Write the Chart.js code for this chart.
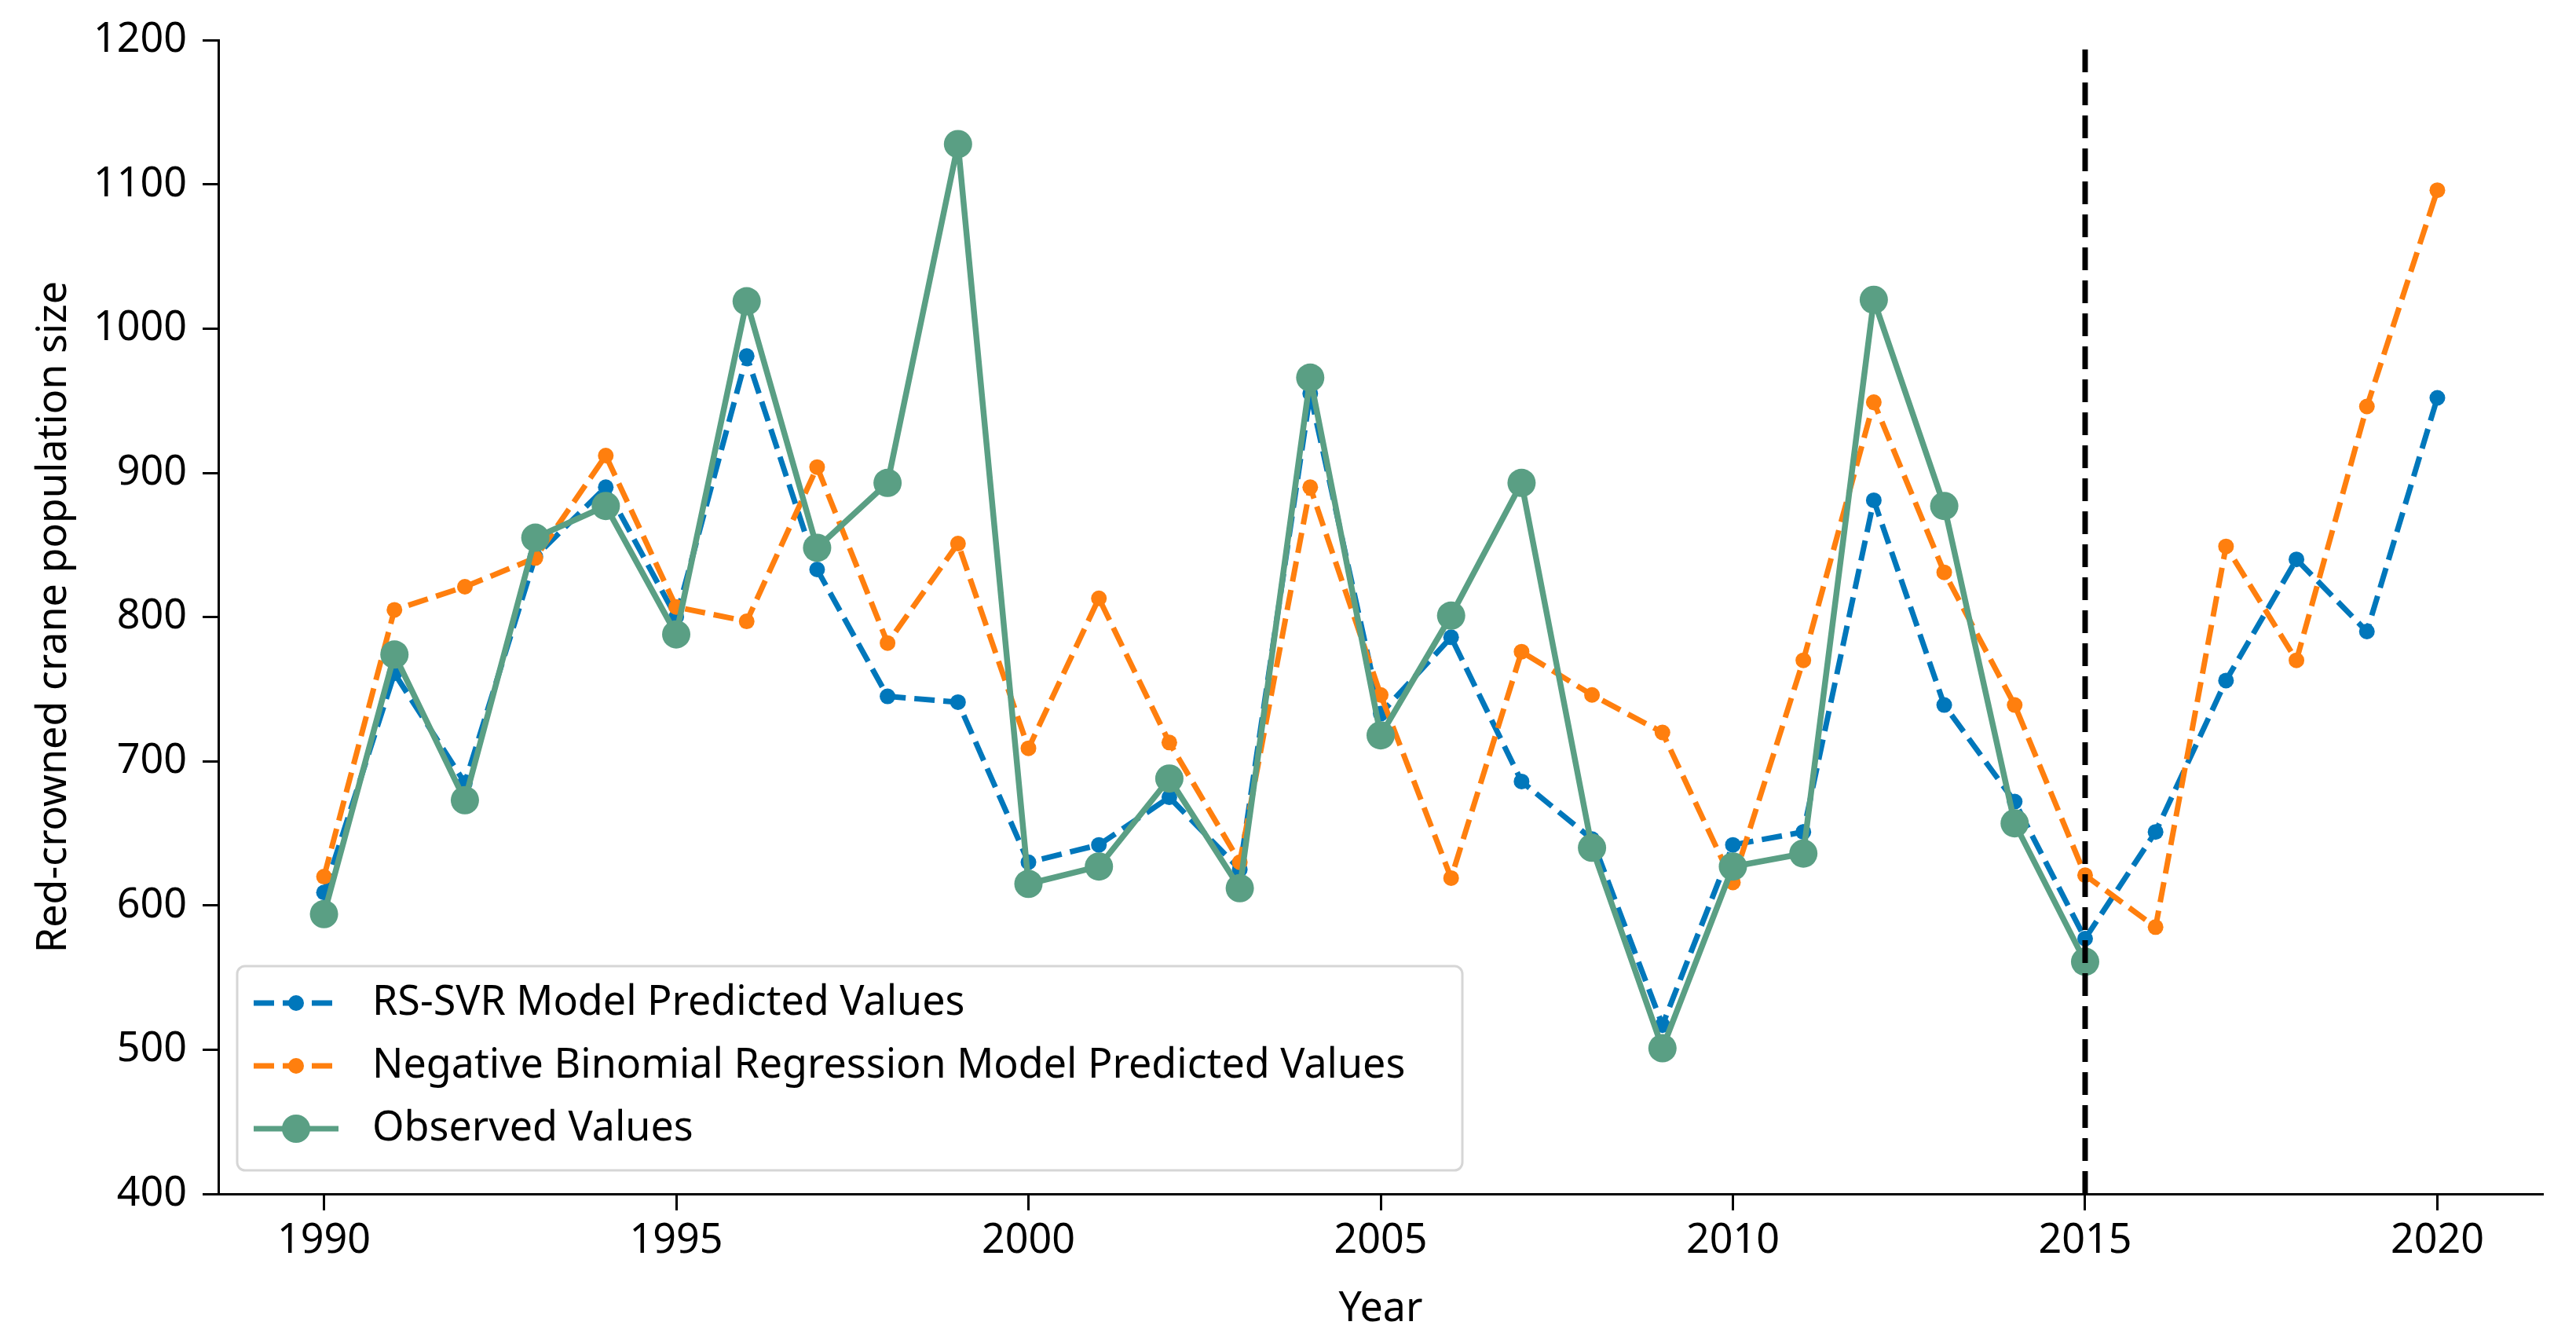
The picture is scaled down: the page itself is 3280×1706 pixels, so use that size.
<!DOCTYPE html>
<html>
<head>
<meta charset="utf-8">
<script src="https://cdn.jsdelivr.net/npm/chart.js@4.4.1/dist/chart.umd.min.js"></script>
<style>
  body { margin: 0; background: #fff; }
  #wrap { width: 3280px; height: 1706px; }
</style>
</head>
<body>
<div id="wrap"><canvas id="chart" width="3280" height="1706"></canvas></div>
<script>
// years on the x axis
const years = [1990, 1991, 1992, 1993, 1994, 1995, 1996, 1997, 1998, 1999,
  2000, 2001, 2002, 2003, 2004, 2005, 2006, 2007, 2008, 2009,
  2010, 2011, 2012, 2013, 2014, 2015, 2016, 2017, 2018, 2019, 2020];

// RS-SVR predictions (1990-2020)
const rsSvr = [609, 761, 685, 842, 890, 800, 981, 833, 745, 741,
  630, 642, 675, 625, 955, 733, 786, 686, 646, 517,
  642, 651, 881, 739, 672, 577, 651, 756, 840, 790, 952];

// negative binomial regression predictions (1990-2020)
const negBin = [620, 805, 821, 841, 912, 807, 797, 904, 782, 851,
  709, 813, 713, 630, 890, 746, 619, 776, 746, 720,
  616, 770, 949, 831, 739, 621, 585, 849, 770, 946, 1096];

// observed counts (1990-2015)
const observed = [594, 774, 673, 855, 877, 788, 1019, 848, 893, 1128,
  615, 627, 688, 612, 966, 718, 801, 893, 640, 501,
  627, 636, 1020, 877, 657, 561];

const splitYear = 2015;
const xTicks = [1990, 1995, 2000, 2005, 2010, 2015, 2020];
const yTicks = [400, 500, 600, 700, 800, 900, 1000, 1100, 1200];

const BLUE = '#0077bb';
const ORANGE = '#ff7f0e';
const GREEN = '#5a9f84';
const FONT = '"Noto Sans", "Open Sans", sans-serif';
const DASH = [26, 11];

const pts = (vals) => vals.map((v, i) => ({ x: years[i], y: v }));

const legendItems = [
  { label: 'RS-SVR Model Predicted Values', color: BLUE, dash: DASH, r: 10 },
  { label: 'Negative Binomial Regression Model Predicted Values', color: ORANGE, dash: DASH, r: 10 },
  { label: 'Observed Values', color: GREEN, dash: [], r: 18 },
];

// matplotlib-style legend box inside the plot (lower left)
const boxLegend = {
  id: 'boxLegend',
  afterDraw(chart) {
    const ctx = chart.ctx;
    const x0 = 302, y0 = 1230, w = 1560, h = 260;
    ctx.save();
    ctx.beginPath();
    ctx.roundRect(x0, y0, w, h, 10);
    ctx.fillStyle = 'rgba(255,255,255,0.8)';
    ctx.fill();
    ctx.lineWidth = 3;
    ctx.strokeStyle = '#d6d6d6';
    ctx.stroke();

    legendItems.forEach((it, i) => {
      const cy = 1277 + i * 80;
      ctx.beginPath();
      ctx.setLineDash(it.dash);
      ctx.lineWidth = 7;
      ctx.strokeStyle = it.color;
      ctx.moveTo(323, cy);
      ctx.lineTo(431, cy);
      ctx.stroke();
      ctx.setLineDash([]);
      ctx.beginPath();
      ctx.arc(377, cy, it.r, 0, Math.PI * 2);
      ctx.fillStyle = it.color;
      ctx.fill();

      ctx.fillStyle = '#000';
      ctx.font = '52px ' + FONT;
      ctx.textBaseline = 'middle';
      ctx.textAlign = 'left';
      ctx.fillText(it.label, 474, cy);
    });
    ctx.restore();
  }
};

new Chart(document.getElementById('chart'), {
  type: 'line',
  data: {
    datasets: [
      {
        label: 'split',
        data: [{ x: splitYear, y: 400 }, { x: splitYear, y: 1200 }],
        borderColor: '#000',
        borderWidth: 7,
        borderDash: [29, 13],
        pointRadius: 0,
        order: 0,
      },
      {
        label: 'Observed Values',
        data: pts(observed),
        borderColor: GREEN,
        backgroundColor: GREEN,
        borderWidth: 7.5,
        borderJoinStyle: 'round',
        pointRadius: 18,
        pointBorderWidth: 0,
        pointBackgroundColor: GREEN,
        order: 1,
      },
      {
        label: 'Negative Binomial Regression Model Predicted Values',
        data: pts(negBin),
        borderColor: ORANGE,
        backgroundColor: ORANGE,
        borderWidth: 7,
        borderDash: DASH,
        borderJoinStyle: 'round',
        pointRadius: 10,
        pointBorderWidth: 0,
        pointBackgroundColor: ORANGE,
        order: 2,
      },
      {
        label: 'RS-SVR Model Predicted Values',
        data: pts(rsSvr),
        borderColor: BLUE,
        backgroundColor: BLUE,
        borderWidth: 7,
        borderDash: DASH,
        borderJoinStyle: 'round',
        pointRadius: 10,
        pointBorderWidth: 0,
        pointBackgroundColor: BLUE,
        order: 3,
      },
    ],
  },
  options: {
    responsive: false,
    animation: false,
    devicePixelRatio: 1,
    layout: { padding: { top: 46, right: 42, left: 0, bottom: 0 } },
    plugins: {
      legend: { display: false },
      tooltip: { enabled: false },
    },
    scales: {
      x: {
        type: 'linear',
        min: 1988.5,
        max: 2021.5,
        afterBuildTicks: (scale) => { scale.ticks = xTicks.map(v => ({ value: v })); },
        afterFit: (scale) => { scale.height = 186; },
        grid: { drawOnChartArea: false, drawTicks: true, tickLength: 21, tickWidth: 3, color: '#000' },
        border: { display: true, color: '#000', width: 3 },
        ticks: { color: '#000', font: { family: FONT, size: 52 }, padding: 8, maxRotation: 0,
          callback: (v) => String(v) },
        title: { display: true, text: 'Year', color: '#000', font: { family: FONT, size: 52 }, padding: { top: 0, bottom: 8 } },
      },
      y: {
        min: 400,
        max: 1200,
        afterBuildTicks: (scale) => { scale.ticks = yTicks.map(v => ({ value: v })); },
        afterFit: (scale) => { scale.width = 278; },
        grid: { drawOnChartArea: false, drawTicks: true, tickLength: 20, tickWidth: 3, color: '#000' },
        border: { display: true, color: '#000', width: 3 },
        ticks: { color: '#000', font: { family: FONT, size: 52 }, padding: 20,
          callback: (v) => String(v) },
        title: { display: true, text: 'Red-crowned crane population size', color: '#000', font: { family: FONT, size: 52 }, padding: { top: 38, bottom: 0 } },
      },
    },
  },
  plugins: [boxLegend],
});
</script>
</body>
</html>
